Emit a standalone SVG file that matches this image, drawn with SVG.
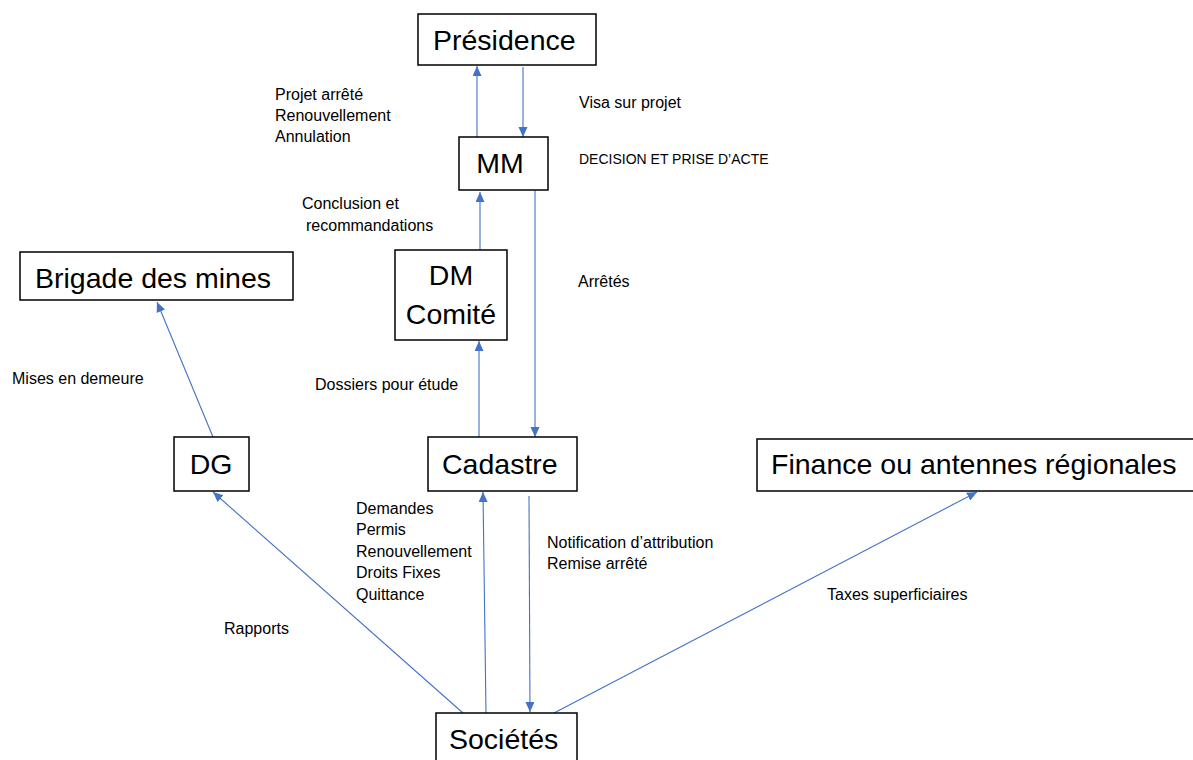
<svg xmlns="http://www.w3.org/2000/svg" width="1193" height="760" viewBox="0 0 1193 760">
<style>
.box{fill:#fff;stroke:#000;stroke-width:1.5}
.big{font-family:"Liberation Sans",Arial,sans-serif;font-size:28.5px;fill:#000}
.sm{font-family:"Liberation Sans",Arial,sans-serif;font-size:16px;fill:#000}
.caps{font-family:"Liberation Sans",Arial,sans-serif;font-size:14px;fill:#000}
.conn{stroke:#4472C4;stroke-width:1.1;fill:none;marker-end:url(#ah)}
</style>
<defs>
<marker id="ah" markerUnits="userSpaceOnUse" markerWidth="11" markerHeight="10" refX="10" refY="4.5" orient="auto">
<path d="M0,0 L10,4.5 L0,9 z" fill="#4472C4"/>
</marker>
</defs>
<rect width="1193" height="760" fill="#fff"/>
<g id="connectors">
<path class="conn" d="M477,137 L477,66"/>
<path class="conn" d="M523,67 L523,137"/>
<path class="conn" d="M480,250 L480,192"/>
<path class="conn" d="M535,190 L535,437"/>
<path class="conn" d="M479,437 L479,341"/>
<path class="conn" d="M213,437 L157,302"/>
<path class="conn" d="M463,713 L213,492"/>
<path class="conn" d="M486,713 L483,492"/>
<path class="conn" d="M529,496 L530,712"/>
<path class="conn" d="M554,713 L977,492"/>
</g>
<g id="presidence"><rect class="box" x="418" y="14" width="178" height="51"/><text class="big" x="433" y="50">Présidence</text></g>
<g id="mm"><rect class="box" x="459" y="137" width="89" height="53"/><text class="big" x="500" y="173" text-anchor="middle">MM</text></g>
<g id="dm"><rect class="box" x="395" y="250" width="112" height="90"/><text class="big" x="451" y="285" text-anchor="middle">DM</text><text class="big" x="451" y="324" text-anchor="middle">Comité</text></g>
<g id="brigade"><rect class="box" x="20" y="252" width="273" height="48"/><text class="big" x="35" y="288">Brigade des mines</text></g>
<g id="dg"><rect class="box" x="174" y="437" width="75" height="54"/><text class="big" x="211" y="474" text-anchor="middle">DG</text></g>
<g id="cadastre"><rect class="box" x="428" y="437" width="149" height="54"/><text class="big" x="442" y="474">Cadastre</text></g>
<g id="finance"><rect class="box" x="757" y="439" width="440" height="52"/><text class="big" x="771" y="474">Finance ou antennes régionales</text></g>
<g id="societes"><rect class="box" x="436" y="713" width="141" height="60"/><text class="big" x="449" y="749">Sociétés</text></g>
<g id="labels">
<text class="sm" x="275" y="100">Projet arrêté</text>
<text class="sm" x="275" y="121">Renouvellement</text>
<text class="sm" x="275" y="142">Annulation</text>
<text class="sm" x="579" y="108">Visa sur projet</text>
<text class="caps" x="579" y="164">DECISION ET PRISE D’ACTE</text>
<text class="sm" x="302" y="209">Conclusion et</text>
<text class="sm" x="306" y="231">recommandations</text>
<text class="sm" x="578" y="287">Arrêtés</text>
<text class="sm" x="12" y="384">Mises en demeure</text>
<text class="sm" x="315" y="390">Dossiers pour étude</text>
<text class="sm" x="356" y="514">Demandes</text>
<text class="sm" x="356" y="535">Permis</text>
<text class="sm" x="356" y="557">Renouvellement</text>
<text class="sm" x="356" y="578">Droits Fixes</text>
<text class="sm" x="356" y="600">Quittance</text>
<text class="sm" x="547" y="548">Notification d’attribution</text>
<text class="sm" x="547" y="569">Remise arrêté</text>
<text class="sm" x="224" y="634">Rapports</text>
<text class="sm" x="827" y="600">Taxes superficiaires</text>
</g>
</svg>
